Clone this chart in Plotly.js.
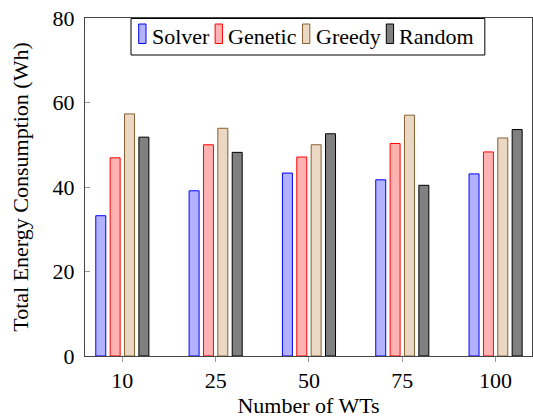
<!DOCTYPE html>
<html><head><meta charset="utf-8">
<script src="https://cdn.plot.ly/plotly-3.0.1.min.js"></script>
<style>html,body{margin:0;padding:0;background:#fff}
#c text{font-family:"Liberation Serif","Times New Roman",serif !important}</style>
</head><body><div id="c"></div>
<script>
const categories = ["10", "25", "50", "75", "100"];
const seriesNames = ["Solver", "Genetic", "Greedy", "Random"];
const solver  = [33.2, 39.1, 43.3, 41.7, 43.1];
const genetic = [46.9, 50.0, 47.1, 50.3, 48.3];
const greedy  = [57.3, 53.9, 50.0, 57.0, 51.6];
const random  = [51.8, 48.2, 52.6, 40.4, 53.6];
const yTicks = [0, 20, 40, 60, 80];

const values = [solver, genetic, greedy, random];
const fills = ["rgba(0,0,255,0.3)", "rgba(255,0,0,0.3)", "#ebd8c4", "#808080"];
const lines = ["#0000ff", "#ff0000", "#86602f", "#000000"];
const barW = 0.107, step = 0.154;
const FONT = "Liberation Serif";
const fs = 22;
const tf = {family: FONT, size: fs, color: "#000000"};

// plot area in pixels
const W = 533, H = 418, mL = 85, mR = 1, mT = 18, mB = 62;
const pw = W - mL - mR, ph = H - mT - mB;
const px = x => (x - mL) / pw;
const py = y => 1 - (y - mT) / ph;

function draw() {
  const traces = values.map((v, i) => ({
    type: "bar",
    name: seriesNames[i],
    x: categories,
    y: v,
    width: barW,
    offset: (i - 1.5) * step - barW / 2,
    marker: {color: fills[i], line: {color: lines[i], width: 1}}
  }));

  // legend built from series names and colours
  const ctx = document.createElement("canvas").getContext("2d");
  ctx.font = fs + "px '" + FONT + "'";
  const tw = seriesNames.map(n => ctx.measureText(n).width);
  const sw = 7.3, gapT = 4.7, gapI = 7, padL = 7.7, padR = 12;
  const boxL = 131;
  let xcur = boxL + padL;
  const shapes = [], annotations = [];
  seriesNames.forEach((n, i) => {
    shapes.push({type: "rect", xref: "paper", yref: "paper", x0: px(xcur), x1: px(xcur + sw), y0: py(43.5), y1: py(24),
                 line: {color: lines[i], width: 1}, fillcolor: fills[i], layer: "above"});
    xcur += sw + gapT;
    annotations.push({xref: "paper", yref: "paper", x: px(xcur - 1), y: py(36.5), xanchor: "left", yanchor: "middle",
                      text: n, showarrow: false, font: tf});
    xcur += tw[i] + (i < seriesNames.length - 1 ? gapI : 0);
  });
  const boxR = xcur + padR;
  shapes.unshift({type: "rect", xref: "paper", yref: "paper", x0: px(boxL), x1: px(boxR), y0: py(55), y1: py(18.5),
                  line: {color: "#000", width: 1}, fillcolor: "#fff", layer: "above"});

  const layout = {
    width: W, height: H,
    margin: {l: mL, r: mR, t: mT, b: mB},
    barmode: "overlay",
    paper_bgcolor: "#fff", plot_bgcolor: "#fff",
    font: tf,
    showlegend: false,
    shapes: shapes, annotations: annotations,
    xaxis: {type: "category", range: [-0.4, 4.39], showgrid: false, zeroline: false,
            showline: true, mirror: true, linecolor: "#444", linewidth: 1,
            ticks: "outside", ticklen: 5, tickcolor: "#999",
            tickfont: tf,
            title: {text: "Number of WTs", font: tf, standoff: 9}},
    yaxis: {range: [0, 80], tickvals: yTicks, showgrid: false, zeroline: false,
            showline: true, mirror: true, linecolor: "#444", linewidth: 1,
            ticks: "inside", ticklen: 5, tickcolor: "#999",
            tickfont: tf, ticklabelstandoff: 5,
            title: {text: "Total Energy Consumption (Wh)", font: tf, standoff: 17}}
  };

  Plotly.newPlot("c", traces, layout, {staticPlot: true});
}

if (document.fonts && document.fonts.load) {
  document.fonts.load("22px 'Liberation Serif'").then(draw, draw);
} else {
  draw();
}
</script></body></html>
